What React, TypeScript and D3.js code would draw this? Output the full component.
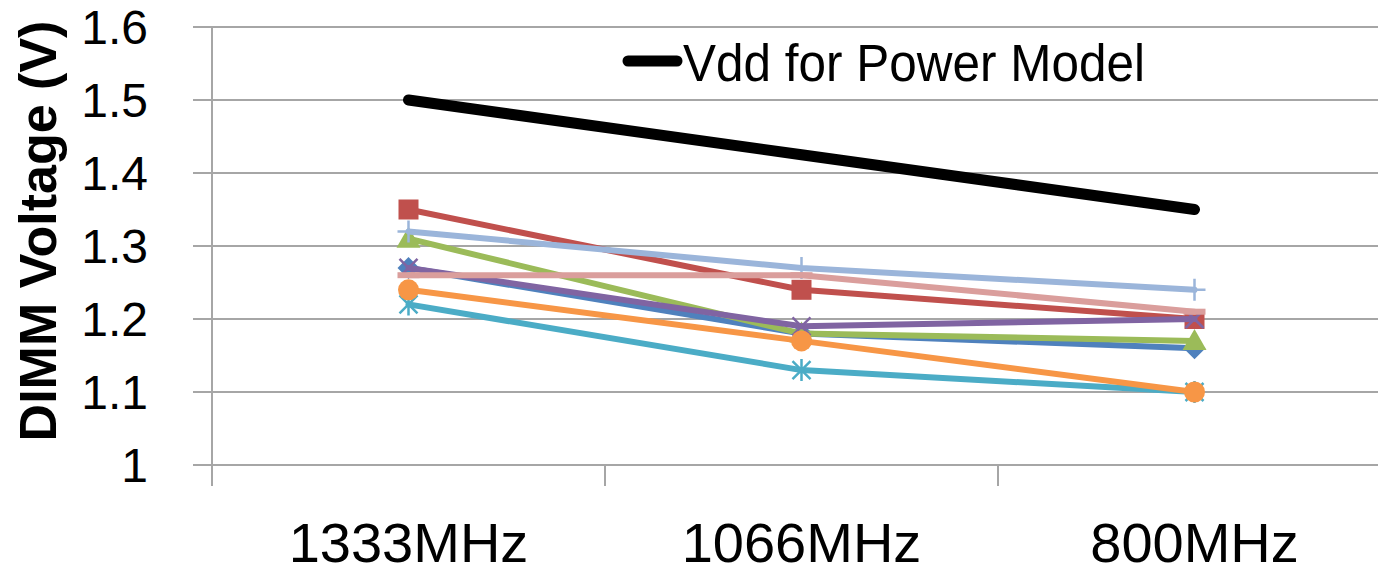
import React from "react";
import * as d3 from "d3";

const categories = ["1333MHz", "1066MHz", "800MHz"];
const yTicks = [1, 1.1, 1.2, 1.3, 1.4, 1.5, 1.6];

const vddPowerModel = [1.5, 1.425, 1.35];
const seriesDiamond = [1.27, 1.18, 1.16];
const seriesSquare = [1.35, 1.24, 1.2];
const seriesTriangle = [1.31, 1.18, 1.17];
const seriesX = [1.27, 1.19, 1.2];
const seriesStar = [1.22, 1.13, 1.1];
const seriesCircle = [1.24, 1.17, 1.1];
const seriesPlus = [1.32, 1.27, 1.24];
const seriesDash = [1.26, 1.26, 1.21];

const legendLabel = "Vdd for Power Model";
const yTitle = "DIMM Voltage (V)";

const series = [
  { values: seriesDiamond, color: "#4F81BD", marker: "diamond" },
  { values: seriesSquare, color: "#C0504D", marker: "square" },
  { values: seriesTriangle, color: "#9BBB59", marker: "triangle" },
  { values: seriesX, color: "#8064A2", marker: "x" },
  { values: seriesStar, color: "#4BACC6", marker: "star" },
  { values: seriesCircle, color: "#F79646", marker: "circle" },
  { values: seriesPlus, color: "#9BB5DA", marker: "plus" },
  { values: seriesDash, color: "#DA9E9C", marker: "dash" },
];

const W = 1378;
const H = 574;
const font = "'Liberation Sans', Arial, sans-serif";

function Marker({ type, cx, cy, color }: { type: string; cx: number; cy: number; color: string }) {
  const r = 10;
  switch (type) {
    case "diamond":
      return <path d={`M${cx},${cy - 11}L${cx + 11},${cy}L${cx},${cy + 11}L${cx - 11},${cy}Z`} fill={color} />;
    case "square":
      return <rect x={cx - r} y={cy - r} width={2 * r} height={2 * r} fill={color} />;
    case "triangle":
      return <path d={`M${cx},${cy - 12}L${cx + 12},${cy + 9}L${cx - 12},${cy + 9}Z`} fill={color} />;
    case "circle":
      return <circle cx={cx} cy={cy} r={10.5} fill={color} />;
    case "x":
      return (
        <path
          d={`M${cx - 9},${cy - 9}L${cx + 9},${cy + 9}M${cx - 9},${cy + 9}L${cx + 9},${cy - 9}`}
          stroke={color}
          strokeWidth={2.5}
          fill="none"
        />
      );
    case "star":
      return (
        <path
          d={`M${cx - 9},${cy - 9}L${cx + 9},${cy + 9}M${cx - 9},${cy + 9}L${cx + 9},${cy - 9}M${cx},${cy - 11}L${cx},${cy + 11}`}
          stroke={color}
          strokeWidth={2.5}
          fill="none"
        />
      );
    case "plus":
      return (
        <path
          d={`M${cx - 11},${cy}L${cx + 11},${cy}M${cx},${cy - 11}L${cx},${cy + 11}`}
          stroke={color}
          strokeWidth={2.5}
          fill="none"
        />
      );
    case "dash":
      return <rect x={cx - 11} y={cy - 3} width={22} height={6} fill={color} />;
    default:
      return null;
  }
}

export default function App() {
  const x = d3.scaleBand<string>().domain(categories).range([212, 1391]).paddingInner(0).paddingOuter(0);
  const y = d3.scaleLinear().domain([1, 1.6]).range([465, 27]);
  const cx = (c: string) => (x(c) as number) + x.bandwidth() / 2;

  const line = d3
    .line<number>()
    .x((_, i) => cx(categories[i]))
    .y((d) => y(d));

  const gridColor = "#A6A6A6";
  const boundaries = categories.map((c) => x(c) as number);

  return (
    <svg
      width={W}
      height={H}
      style={{ position: "absolute", left: 0, top: 0, background: "#fff" }}
      fontFamily={font}
    >
      <rect x={0} y={0} width={W} height={H} fill="#fff" />
      {yTicks.map((t) => (
        <g key={t}>
          <line x1={193} x2={1391} y1={y(t)} y2={y(t)} stroke={gridColor} strokeWidth={2} />
          <text x={148} y={y(t) + 17} textAnchor="end" fontSize={48} fill="#000">
            {String(+t.toFixed(1))}
          </text>
        </g>
      ))}
      <line x1={212} x2={212} y1={y(1.6)} y2={486} stroke={gridColor} strokeWidth={2} />
      {boundaries.map((b, i) => (
        <line key={i} x1={b} x2={b} y1={y(1)} y2={486} stroke={gridColor} strokeWidth={2} />
      ))}
      {categories.map((c) => (
        <text key={c} x={cx(c)} y={562} textAnchor="middle" fontSize={56} fill="#000">
          {c}
        </text>
      ))}
      <text
        transform={`translate(56,231) rotate(-90)`}
        textAnchor="middle"
        fontSize={52}
        fontWeight="bold"
        fill="#000"
      >
        {yTitle}
      </text>
      <path
        d={line(vddPowerModel) || ""}
        stroke="#000"
        strokeWidth={11}
        fill="none"
        strokeLinecap="round"
        strokeLinejoin="round"
      />
      {series.map((s, si) => (
        <g key={si}>
          <path
            d={line(s.values) || ""}
            stroke={s.color}
            strokeWidth={6}
            fill="none"
            strokeLinecap="round"
            strokeLinejoin="round"
          />
          {s.values.map((v, i) => (
            <Marker key={i} type={s.marker} cx={cx(categories[i])} cy={y(v)} color={s.color} />
          ))}
        </g>
      ))}
      <line x1={628} x2={677} y1={61} y2={61} stroke="#000" strokeWidth={11} strokeLinecap="round" />
      <text x={683} y={81} fontSize={51} fill="#000" textLength={462} lengthAdjust="spacingAndGlyphs">
        {legendLabel}
      </text>
    </svg>
  );
}
